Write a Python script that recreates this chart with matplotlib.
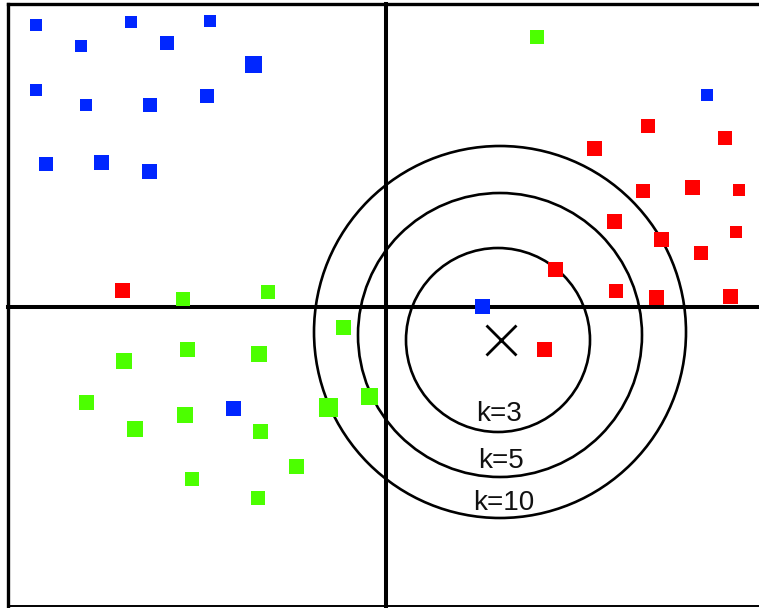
import numpy as np
import matplotlib.pyplot as plt
from matplotlib.patches import Circle

# point positions (image pixel coords, y downwards)
blue_x = [36, 131, 210, 81, 167, 253, 36, 86, 150, 207, 46, 101, 149, 707, 482, 233]
blue_y = [25, 22, 21, 46, 43, 64, 90, 105, 105, 96, 164, 162, 171, 95, 306, 408]
blue_px = [12, 12, 12, 12, 14, 17, 12, 12, 14, 14, 14, 15, 15, 12, 15, 15]

red_x = [122, 648, 725, 594, 643, 692, 739, 614, 661, 736, 701, 555, 616, 656, 730, 544]
red_y = [290, 126, 138, 148, 191, 187, 190, 221, 239, 232, 253, 269, 291, 297, 296, 349]
red_px = [15, 14, 14, 15, 14, 15, 12, 15, 15, 12, 14, 15, 14, 15, 15, 15]

green_x = [183, 268, 537, 343, 187, 124, 259, 86, 185, 135, 260, 328, 369, 296, 192, 258]
green_y = [299, 292, 37, 327, 349, 361, 354, 402, 415, 429, 431, 407, 396, 466, 479, 498]
green_px = [14, 14, 14, 15, 15, 16, 16, 15, 16, 16, 15, 19, 17, 15, 14, 14]

# query point and neighbourhood circles
query = (501, 340)
k_labels = ['k=3', 'k=5', 'k=10']
circle_cx = [498, 500, 500]
circle_cy = [340, 335, 332]
circle_r = [92, 142, 186]
label_x = [499, 501, 504]
label_y = [414, 461, 503]

W, H = 759, 608
fig = plt.figure(figsize=(W / 100, H / 100), dpi=100)
ax = fig.add_axes([0, 0, 1, 1])
ax.set_xlim(0, W)
ax.set_ylim(H, 0)
ax.axis('off')

# frame and cross
ax.plot([8, W], [4, 4], color='black', lw=2.4)
ax.plot([8, W], [606, 606], color='black', lw=1.4)
ax.plot([8, 8], [4, 606], color='black', lw=2.4)
ax.plot([386, 386], [4, 606], color='black', lw=2.9)
ax.plot([8, W], [307, 307], color='black', lw=2.9)

def sq(px):
    return (np.array(px) * 0.72) ** 2

ax.scatter(blue_x, blue_y, s=sq(blue_px), marker='s', color='#0026ff', linewidths=0, zorder=3)
ax.scatter(red_x, red_y, s=sq(red_px), marker='s', color='#ff0000', linewidths=0, zorder=3)
ax.scatter(green_x, green_y, s=sq(green_px), marker='s', color='#4cff00', linewidths=0, zorder=3)

for cx, cy, r in zip(circle_cx, circle_cy, circle_r):
    ax.add_patch(Circle((cx, cy), r, fill=False, ec='black', lw=1.9, zorder=2))

ax.scatter([query[0]], [query[1]], s=(30 * 0.72) ** 2, marker='x', color='black', linewidths=2.0, zorder=4)

for lab, lx, ly in zip(k_labels, label_x, label_y):
    ax.text(lx, ly, lab, fontsize=20, family='Liberation Sans', ha='center', va='center',
            color='#111111', zorder=5)

fig.savefig('out.png', dpi=100)
